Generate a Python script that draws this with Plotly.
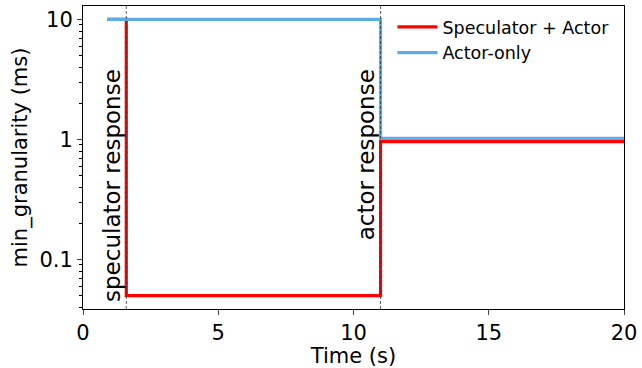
import plotly.graph_objects as go
import math

# Data
time_spec = [0.9, 1.6, 11.0, 20.0]
gran_spec = [10.0, 0.05, 0.96, 0.96]
time_actor = [0.9, 11.0, 20.0]
gran_actor = [10.0, 1.02, 1.02]
event_times = [1.6, 11.0]
event_labels = ["speculator response", "actor response"]
x_ticks = [0, 5, 10, 15, 20]
y_ticks = [0.1, 1, 10]
y_tick_labels = ["0.1", "1", "10"]

FONT = "DejaVu Sans"

fig = go.Figure()
fig.add_trace(go.Scatter(x=time_spec, y=gran_spec, mode="lines", line_shape="hv",
                         line=dict(color="#ff0000", width=3.2), name="Speculator + Actor"))
fig.add_trace(go.Scatter(x=time_actor, y=gran_actor, mode="lines", line_shape="hv",
                         line=dict(color="#5dade2", width=3.2), name="Actor-only"))

for t, lab in zip(event_times, event_labels):
    fig.add_vline(x=t, line=dict(color="#333333", width=0.8, dash="3px,2px"), layer="above")
    fig.add_annotation(x=t, y=math.log10(4), xref="x", yref="y", text=lab, textangle=-90,
                       showarrow=False, xanchor="right", yanchor="top", xshift=0,
                       font=dict(family=FONT, size=23, color="black"))

minor_vals = [v * 10 ** e for e in (-2, -1, 0, 1) for v in range(2, 10)]
fig.update_layout(
    width=642, height=368,
    margin=dict(l=83, r=15, t=5, b=57),
    paper_bgcolor="white", plot_bgcolor="white",
    font=dict(family=FONT, size=21, color="black"),
    showlegend=True,
    legend=dict(x=0.572, y=0.99, xanchor="left", yanchor="top",
                font=dict(family=FONT, size=17.5), bgcolor="rgba(255,255,255,0)",
                tracegroupgap=0, itemwidth=40),
    xaxis=dict(range=[0, 20], tickvals=x_ticks, ticks="outside", ticklen=5, tickwidth=1,
               showline=True, mirror=True, linecolor="black", linewidth=1, showgrid=False,
               zeroline=False, title=dict(text="Time (s)", standoff=3, font=dict(size=21)),
               tickfont=dict(size=21)),
    yaxis=dict(type="log", range=[-1.413, 1.112], tickvals=y_ticks, ticktext=y_tick_labels,
               ticks="outside", ticklen=5, tickwidth=1,
               minor=dict(tickvals=minor_vals, ticks="outside", ticklen=3, tickwidth=0.8,
                          tickcolor="black", showgrid=False),
               showline=True, mirror=True, linecolor="black", linewidth=1, showgrid=False,
               zeroline=False,
               title=dict(text="min_granularity (ms)", standoff=6, font=dict(size=21)),
               tickfont=dict(size=21)),
)

fig.write_html("out.html", config={"displayModeBar": False},
               post_script="document.body.style.margin='0';document.body.style.overflow='hidden';")
